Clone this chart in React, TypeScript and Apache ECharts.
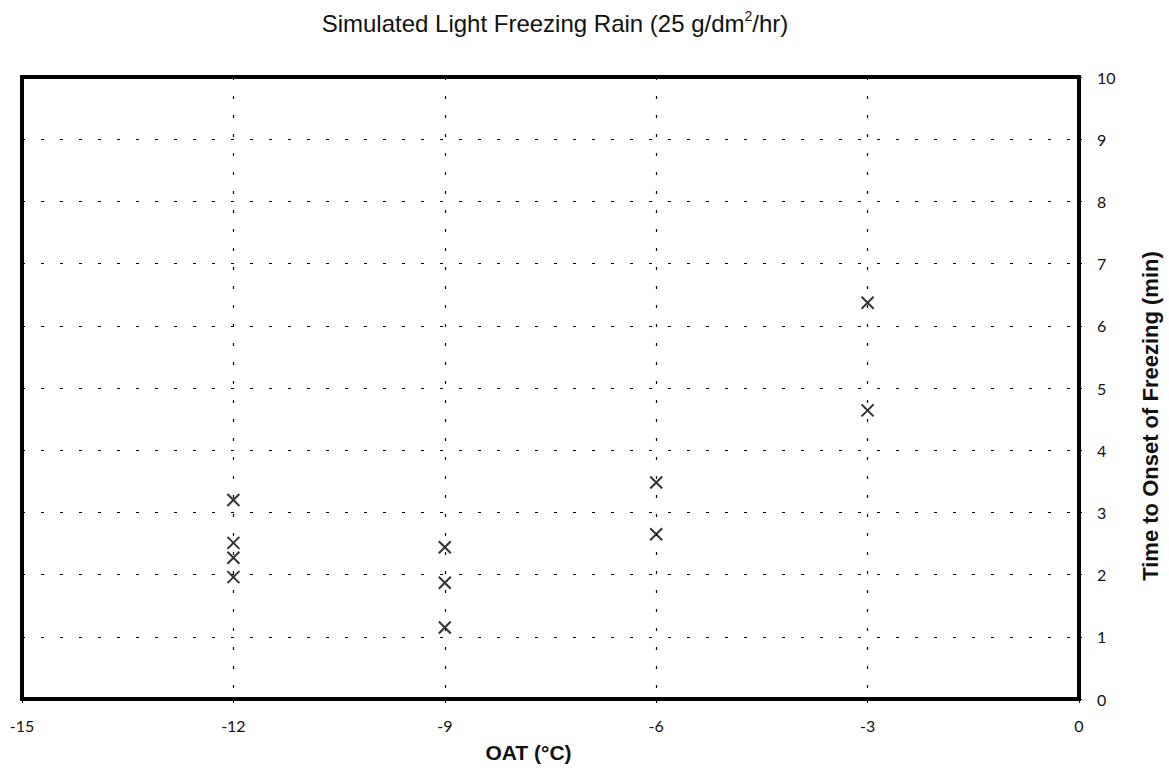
import React, { useEffect, useRef } from "react";
import * as echarts from "echarts";

const oat: number[] = [-12, -12, -12, -12, -9, -9, -9, -6, -6, -3, -3];
const onsetMin: number[] = [3.2, 2.51, 2.27, 1.96, 2.44, 1.87, 1.15, 3.48, 2.65, 6.37, 4.64];
const xTicks = { min: -15, max: 0, interval: 3 };
const yTicks = { min: 0, max: 10, interval: 1 };

export default function App() {
  const ref = useRef<HTMLDivElement>(null);
  useEffect(() => {
    if (!ref.current) return;
    const chart = echarts.init(ref.current, null, { renderer: "svg" });
    const data = oat.map((x, i) => [x, onsetMin[i]]);
    const labelFont = "'Lato', 'DejaVu Sans', sans-serif";
    const sans = "'Liberation Sans', Arial, sans-serif";
    chart.setOption({
      animation: false,
      backgroundColor: "#fff",
      title: {
        text: "Simulated Light Freezing Rain (25 g/dm{sup|2}/hr)",
        left: 550,
        textAlign: "center",
        top: 4,
        textStyle: {
          fontFamily: sans,
          fontSize: 24,
          fontWeight: "normal",
          color: "#111",
          rich: {
            sup: {
              fontFamily: sans,
              fontSize: 14,
              verticalAlign: "bottom",
              padding: [0, 0, 14, 0],
              color: "#111",
            },
          },
        },
      },
      grid: {
        left: 22,
        right: 84,
        top: 77,
        bottom: 66,
        show: true,
        borderColor: "#000",
        borderWidth: 4,
        backgroundColor: "transparent",
      },
      xAxis: {
        type: "value",
        min: xTicks.min,
        max: xTicks.max,
        interval: xTicks.interval,
        name: "OAT (°C)",
        nameLocation: "middle",
        nameGap: 43,
        nameTextStyle: {
          fontFamily: sans,
          fontWeight: "bold",
          fontSize: 21,
          color: "#111",
          padding: [0, 44, 0, 0],
        },
        axisLine: { show: false },
        axisTick: { show: true, length: 4, lineStyle: { color: "#000" } },
        axisLabel: {
          fontFamily: labelFont,
          fontSize: 16,
          color: "#111",
          margin: 18,
        },
        splitLine: {
          show: true,
          lineStyle: { color: "#000", type: [3, 16], width: 1.2 },
        },
      },
      yAxis: {
        type: "value",
        position: "right",
        min: yTicks.min,
        max: yTicks.max,
        interval: yTicks.interval,
        name: "Time to Onset of Freezing (min)",
        nameLocation: "middle",
        nameRotate: 90,
        nameGap: 60,
        nameTextStyle: {
          fontFamily: sans,
          fontWeight: "bold",
          fontSize: 22,
          color: "#111",
          padding: [0, 56, 0, 0],
        },
        axisLine: { show: false },
        axisTick: { show: true, length: 3, lineStyle: { color: "#000" } },
        axisLabel: {
          fontFamily: labelFont,
          fontSize: 16,
          color: "#111",
          margin: 18,
        },
        splitLine: {
          show: true,
          lineStyle: { color: "#000", type: [3, 16], width: 1.2 },
        },
      },
      series: [
        {
          type: "scatter",
          data,
          symbol: "path://M0,0L10,10M10,0L0,10",
          symbolSize: 12,
          itemStyle: { color: "transparent", borderColor: "#000", borderWidth: 2 },
        },
      ],
    });
    return () => chart.dispose();
  }, []);
  return (
    <div
      ref={ref}
      style={{ position: "fixed", left: 0, top: 0, width: 1169, height: 768, background: "#fff" }}
    />
  );
}
